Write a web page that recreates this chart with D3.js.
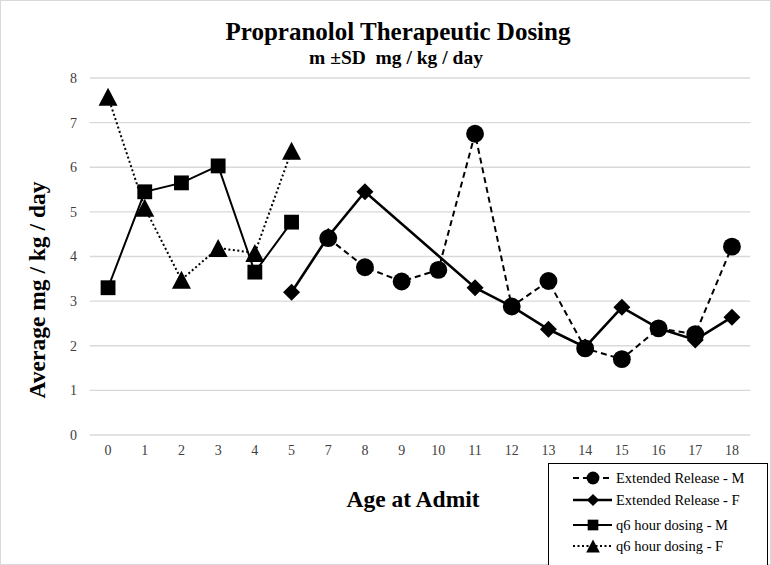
<!DOCTYPE html>
<html><head><meta charset="utf-8">
<script src="https://cdn.jsdelivr.net/npm/d3@7"></script>
<style>body{margin:0;background:#fff}svg{display:block}</style>
</head><body>
<svg id="c" width="771" height="565"></svg>
<script>
const categories = ["0","1","2","3","4","5","7","8","9","10","11","12","13","14","15","16","17","18"];
const extM = [null,null,null,null,null,null,4.41,3.76,3.44,3.70,6.75,2.88,3.45,1.94,1.70,2.39,2.26,4.22];
const extF = [null,null,null,null,null,3.20,4.45,5.45,null,null,3.30,2.88,2.37,1.97,2.86,2.39,2.13,2.64];
const q6M  = [3.30,5.45,5.65,6.03,3.65,4.77,null,null,null,null,null,null,null,null,null,null,null,null];
const q6F  = [7.58,5.09,3.48,4.19,4.08,6.37,null,null,null,null,null,null,null,null,null,null,null,null];
const yTicks = [0,1,2,3,4,5,6,7,8];
const seriesNames = ["Extended Release - M","Extended Release - F","q6 hour dosing - M","q6 hour dosing - F"];

const svg = d3.select("#c");
const serif = "'Liberation Serif','Times New Roman',serif";
svg.append("rect").attr("x",0.5).attr("y",0.5).attr("width",770).attr("height",564)
  .attr("fill","#fff").attr("stroke","#d9d9d9");

const x = d3.scaleBand().domain(categories).range([89.7,750.3]);
const y = d3.scaleLinear().domain([0,8]).range([435,78]);

// gridlines
svg.append("g").selectAll("line").data(yTicks).join("line")
  .attr("x1",89.7).attr("x2",750.3).attr("y1",d=>y(d)).attr("y2",d=>y(d))
  .attr("stroke","#d9d9d9").attr("stroke-width",1.3);

// y axis labels
const ya = svg.append("g").attr("transform","translate(77,0)")
  .call(d3.axisLeft(y).tickValues(yTicks).tickSize(0).tickPadding(0).tickFormat(d3.format("d")));
ya.select(".domain").remove();
ya.selectAll("text").attr("font-family",serif).attr("font-size",14).attr("fill","#404040");

// x axis labels
const xa = svg.append("g").attr("transform","translate(0,445)")
  .call(d3.axisBottom(x).tickSize(0).tickPadding(0));
xa.select(".domain").remove();
xa.selectAll("text").attr("font-family",serif).attr("font-size",14).attr("fill","#404040");

// titles
svg.append("text").attr("x",398).attr("y",40).attr("text-anchor","middle")
  .attr("font-family",serif).attr("font-weight","bold").attr("font-size",25).text("Propranolol Therapeutic Dosing");
svg.append("text").attr("x",396).attr("y",64).attr("text-anchor","middle")
  .attr("font-family",serif).attr("font-weight","bold").attr("font-size",19.5).attr("xml:space","preserve").text("m \u00B1SD  mg / kg / day");
svg.append("text").attr("transform","translate(45,290) rotate(-90)").attr("text-anchor","middle")
  .attr("font-family",serif).attr("font-weight","bold").attr("font-size",23.5).text("Average mg / kg / day");
svg.append("text").attr("x",413).attr("y",507).attr("text-anchor","middle")
  .attr("font-family",serif).attr("font-weight","bold").attr("font-size",23.5).text("Age at Admit");

const styles = [
  {vals:extM, dash:"6,4", w:2, sym:d3.symbolCircle, size:250},
  {vals:extF, dash:null, w:2.6, sym:d3.symbolDiamond2, size:200, diamond:true},
  {vals:q6M, dash:null, w:2, sym:d3.symbolSquare, size:220},
  {vals:q6F, dash:"2,2.5", w:2, sym:d3.symbolTriangle, size:190, tri:true}
];
const cx = i => x(categories[i]) + x.bandwidth()/2;

function markerPath(s, sizeScale){
  if (s.diamond){
    const r = 8.5*sizeScale;
    return `M0,${-r}L${r},0L0,${r}L${-r},0Z`;
  }
  if (s.tri){
    const h = 18*sizeScale, w = 19*sizeScale;
    return `M0,${-h/2}L${w/2},${h/2}L${-w/2},${h/2}Z`;
  }
  return d3.symbol().type(s.sym).size(s.size*sizeScale*sizeScale)();
}

styles.forEach(s=>{
  const pts = s.vals.map((v,i)=>({i,v})).filter(d=>d.v!==null);
  const line = d3.line().x(d=>cx(d.i)).y(d=>y(d.v));
  svg.append("path").attr("d",line(pts)).attr("fill","none").attr("stroke","#000")
    .attr("stroke-width",s.w).attr("stroke-dasharray",s.dash);
});
styles.forEach(s=>{
  const pts = s.vals.map((v,i)=>({i,v})).filter(d=>d.v!==null);
  svg.append("g").selectAll("path").data(pts).join("path")
    .attr("transform",d=>`translate(${cx(d.i)},${y(d.v)})`)
    .attr("d",markerPath(s,1)).attr("fill","#000");
});

// legend
const lg = svg.append("g");
lg.append("rect").attr("x",548.5).attr("y",463.5).attr("width",219).attr("height",105)
  .attr("fill","#fff").attr("stroke","#000").attr("stroke-width",1);
const rowsY = [478,500,525,546];
styles.forEach((s,k)=>{
  const yy = rowsY[k];
  lg.append("line").attr("x1",573).attr("x2",612).attr("y1",yy).attr("y2",yy)
    .attr("stroke","#000").attr("stroke-width",s.w).attr("stroke-dasharray",s.dash);
  lg.append("path").attr("transform",`translate(593,${yy})`).attr("d",markerPath(s,0.72)).attr("fill","#000");
  lg.append("text").attr("x",616).attr("y",yy+5).attr("font-family",serif).attr("font-size",14.5)
    .attr("fill","#000").text(seriesNames[k]);
});
</script>
</body></html>
